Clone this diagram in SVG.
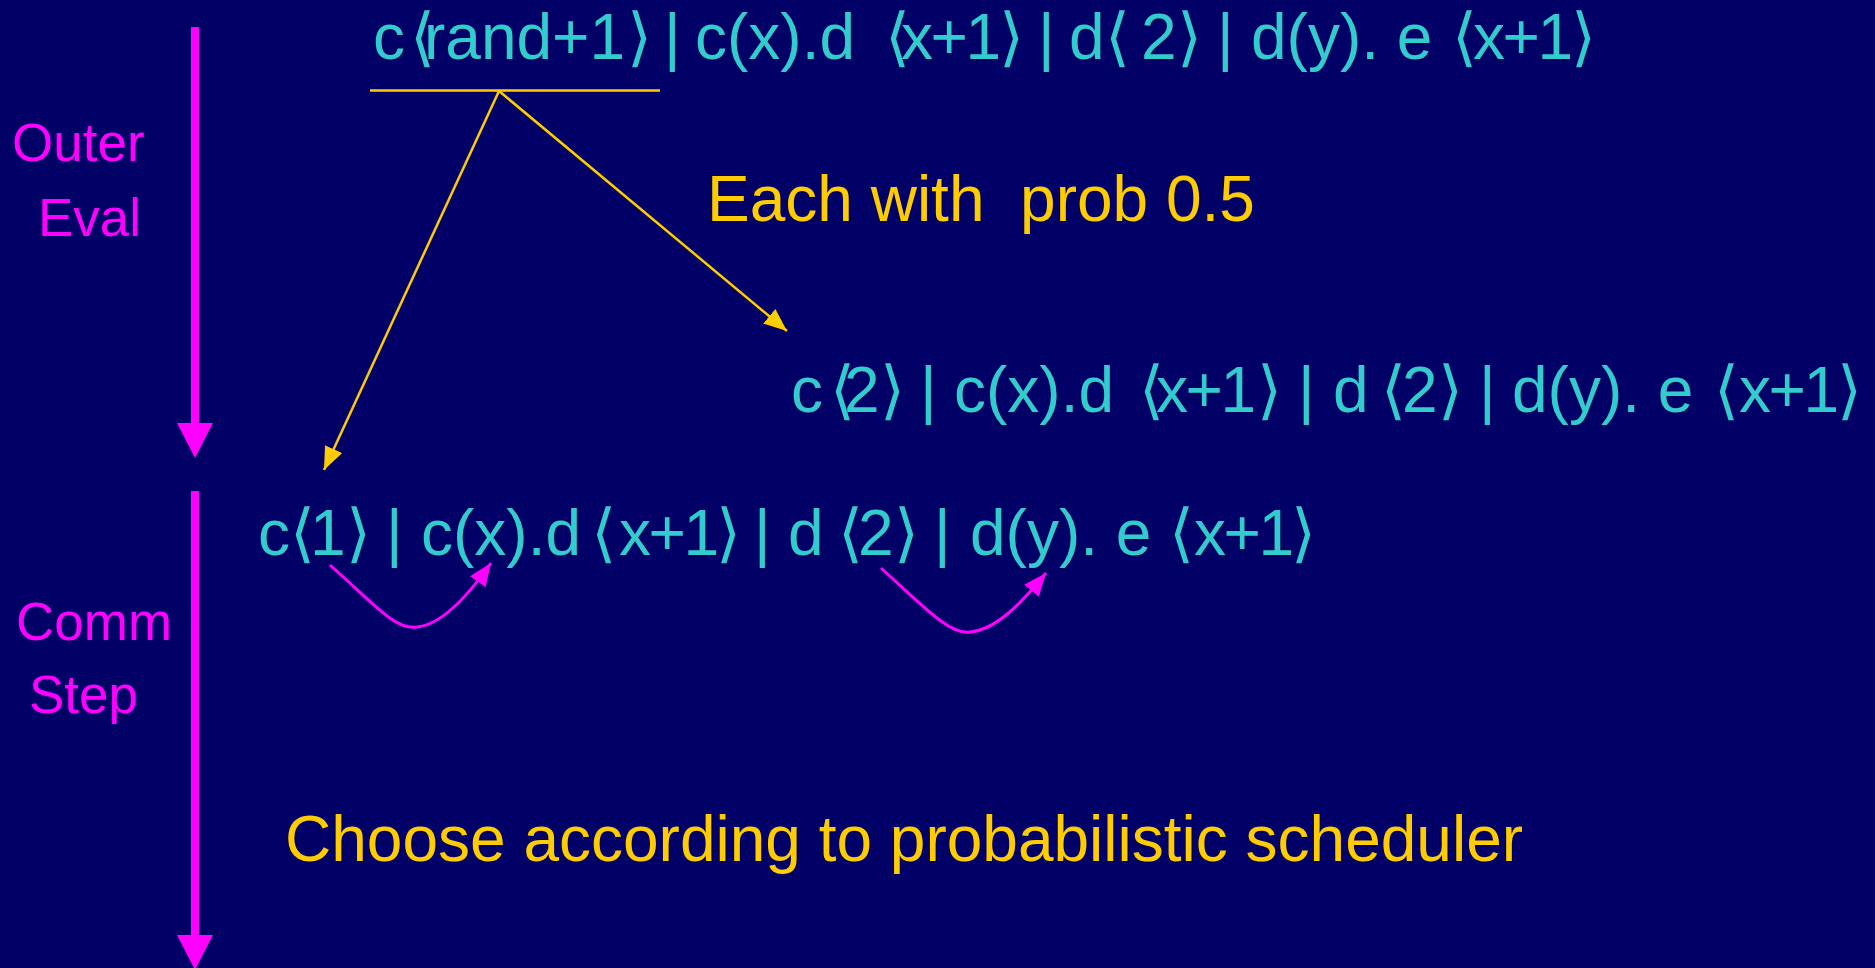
<svg xmlns="http://www.w3.org/2000/svg" width="1875" height="968" viewBox="0 0 1875 968">
<style>
.bg{fill:#000066}
.expr{font-family:"Liberation Sans",Arial,sans-serif;font-size:64px;fill:#33CCCC}
.br{font-family:"DejaVu Sans","Liberation Sans",sans-serif;letter-spacing:-16px}
.t{letter-spacing:-2.5px}
.bar{letter-spacing:-4px}
.sp{letter-spacing:-3px}
.note{font-family:"Liberation Sans",Arial,sans-serif;font-size:64px;fill:#FFCC00}
.lab{font-family:"Liberation Sans",Arial,sans-serif;font-size:53px;fill:#FF00FF}
.ylw{stroke:#FFCC00;stroke-width:2.5;fill:none}
.mag{stroke:#FF00FF;stroke-width:3;fill:none}
.axis{stroke:#FF00FF;stroke-width:8;fill:none}
</style>
<defs>
<marker id="ahY" markerUnits="userSpaceOnUse" markerWidth="24" markerHeight="20" refX="23" refY="9.5" orient="auto"><path d="M0,0 L23,9.5 L0,19 z" fill="#FFCC00"/></marker>
<marker id="ahM" markerUnits="userSpaceOnUse" markerWidth="24" markerHeight="20" refX="23" refY="9.5" orient="auto"><path d="M0,0 L23,9.5 L0,19 z" fill="#FF00FF"/></marker>
</defs>
<rect class="bg" x="0" y="0" width="1875" height="968"/>

<g id="connectors">
<line class="axis" x1="195" y1="27" x2="195" y2="428"/>
<polygon points="177,423 213,423 195,458" fill="#FF00FF"/>
<line class="axis" x1="195" y1="491" x2="195" y2="940"/>
<polygon points="177,935 213,935 195,970" fill="#FF00FF"/>
<line class="ylw" x1="370" y1="90.5" x2="660" y2="90.5"/>
<line class="ylw" x1="499" y1="91" x2="324" y2="470" marker-end="url(#ahY)"/>
<line class="ylw" x1="499" y1="91" x2="787" y2="331" marker-end="url(#ahY)"/>
<path class="mag" d="M330,565 C375,605 395,630 417,627 C440,625 465,600 491,563" marker-end="url(#ahM)"/>
<path class="mag" d="M881,568 C925,608 950,635 970,632 C995,630 1020,605 1046,573" marker-end="url(#ahM)"/>
</g>

<g id="label-outer-eval">
<text class="lab" x="12" y="161">Outer</text>
<text class="lab" x="38" y="236">Eval</text>
</g>
<g id="label-comm-step">
<text class="lab" x="16" y="640">Comm</text>
<text class="lab" x="29" y="713">Step</text>
</g>

<g id="expr-top">
<text class="expr" y="59"><tspan x="373">c</tspan><tspan class="br" x="410">⟨</tspan><tspan x="424">rand+1</tspan><tspan class="br" x="627">⟩ </tspan><tspan class="bar" x="664">| </tspan><tspan x="695">c(x).d </tspan><tspan class="br" x="885">⟨</tspan><tspan class="t" x="901">x+1</tspan><tspan class="br" x="999">⟩ </tspan><tspan class="bar" x="1038">| </tspan><tspan x="1069">d</tspan><tspan class="br" x="1105">⟨ </tspan><tspan x="1141">2</tspan><tspan class="br" x="1177">⟩ </tspan><tspan class="bar" x="1217">| </tspan><tspan x="1251">d(y). e </tspan><tspan class="br" x="1452">⟨</tspan><tspan class="t" x="1473">x+1</tspan><tspan class="br" x="1571">⟩</tspan></text>
</g>

<g id="expr-right">
<text class="expr" y="412"><tspan x="791">c</tspan><tspan class="br" x="830">⟨</tspan><tspan x="844">2</tspan><tspan class="br" x="880">⟩ </tspan><tspan class="bar" x="920">| </tspan><tspan x="954">c(x).d </tspan><tspan class="br" x="1139">⟨</tspan><tspan class="t" x="1156">x+1</tspan><tspan class="br" x="1257">⟩ </tspan><tspan class="bar" x="1298">| </tspan><tspan class="sp" x="1333">d </tspan><tspan class="br" x="1381">⟨</tspan><tspan x="1402">2</tspan><tspan class="br" x="1438">⟩ </tspan><tspan class="bar" x="1479">| </tspan><tspan x="1512">d(y). e </tspan><tspan class="br" x="1714">⟨</tspan><tspan class="t" x="1739">x+1</tspan><tspan class="br" x="1837">⟩</tspan></text>
</g>

<g id="expr-left">
<text class="expr" y="555"><tspan x="258">c</tspan><tspan class="br" x="290">⟨</tspan><tspan x="310">1</tspan><tspan class="br" x="346">⟩ </tspan><tspan class="bar" x="386">| </tspan><tspan x="421">c(x).d</tspan><tspan class="br" x="587"> ⟨</tspan><tspan class="t" x="619">x+1</tspan><tspan class="br" x="716">⟩ </tspan><tspan class="bar" x="754">| </tspan><tspan class="sp" x="788">d </tspan><tspan class="br" x="838">⟨</tspan><tspan x="858">2</tspan><tspan class="br" x="894">⟩ </tspan><tspan class="bar" x="934">| </tspan><tspan x="970">d(y). e </tspan><tspan class="br" x="1169">⟨</tspan><tspan class="t" x="1194">x+1</tspan><tspan class="br" x="1291">⟩</tspan></text>
</g>

<g id="note-prob">
<text class="note" x="707" y="221" xml:space="preserve">Each with  prob 0.5</text>
</g>
<g id="note-scheduler">
<text class="note" x="285" y="861">Choose according to probabilistic scheduler</text>
</g>
</svg>
